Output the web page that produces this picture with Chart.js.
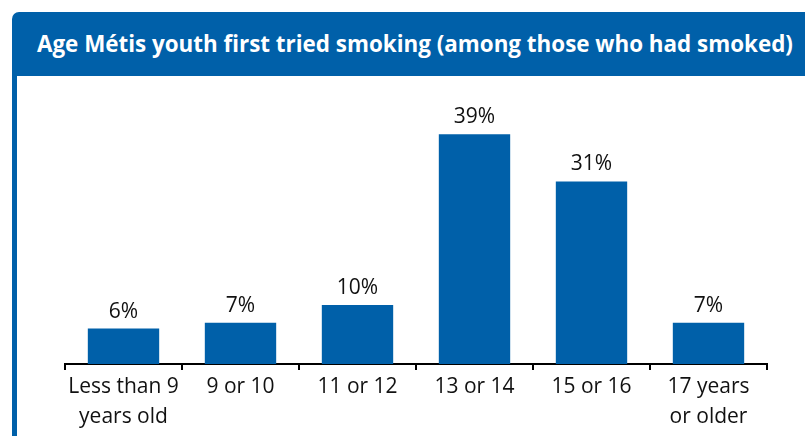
<!DOCTYPE html>
<html>
<head>
<meta charset="utf-8">
<script src="https://cdn.jsdelivr.net/npm/chart.js@4"></script>
<style>
  body { margin: 0; background: #fff; width: 805px; height: 436px; overflow: hidden; position: relative; }
  #header {
    position: absolute; left: 12px; top: 12px; width: 793px; height: 64px;
    background: #0060a9; border-top-left-radius: 7px;
    color: #fff; font-family: "Open Sans", sans-serif; font-weight: bold; font-size: 22.4px; line-height: 64px;
    box-sizing: border-box; padding-left: 25px; white-space: nowrap; overflow: hidden;
  }
  #leftBar { position: absolute; left: 12px; top: 76px; width: 5px; height: 360px; background: #0060a9; }
  #wrap { position: absolute; left: 17px; top: 76px; width: 788px; height: 360px; }
</style>
</head>
<body>
<div id="header">Age Métis youth first tried smoking (among those who had smoked)</div>
<div id="leftBar"></div>
<div id="wrap"><canvas id="chart"></canvas></div>
<script>
let categories = [["Less than 9", "years old"], "9 or 10", "11 or 12", "13 or 14", "15 or 16", ["17 years", "or older"]];
let percentValues = [6, 7, 10, 39, 31, 7];
let barColor = "#0060a9";

// draws the % above each bar
const valueLabels = {
    id: 'valueLabels',
    afterDatasetsDraw(chart) {
        const ctx = chart.ctx;
        const meta = chart.getDatasetMeta(0);
        ctx.save();
        ctx.font = "21px 'Open Sans', sans-serif";
        ctx.fillStyle = "#111";
        ctx.textAlign = "center";
        ctx.textBaseline = "alphabetic";
        meta.data.forEach((bar, i) => {
            ctx.fillText(percentValues[i] + "%", bar.x, bar.y - 11);
        });
        ctx.restore();
    }
};

const ctx = document.getElementById('chart').getContext('2d');
new Chart(ctx, {
    type: 'bar',
    data: {
        labels: categories,
        datasets: [{
            data: percentValues,
            backgroundColor: barColor,
            categoryPercentage: 0.61,
            barPercentage: 1
        }]
    },
    options: {
        responsive: true,
        maintainAspectRatio: false,
        animation: false,
        layout: { padding: { left: 48, right: 38, top: 23, bottom: 2 } },
        plugins: { legend: { display: false }, tooltip: { enabled: false } },
        scales: {
            x: {
                grid: { offset: true, drawOnChartArea: false, drawTicks: true, tickLength: 6, color: "#000", lineWidth: 2 },
                border: { display: true, color: "#000", width: 2 },
                ticks: { color: "#111", font: { family: "Open Sans", size: 21, lineHeight: 1.43 }, padding: 2, maxRotation: 0 }
            },
            y: {
                display: false,
                min: 0,
                max: 45
            }
        }
    },
    plugins: [valueLabels]
});
</script>
</body>
</html>
